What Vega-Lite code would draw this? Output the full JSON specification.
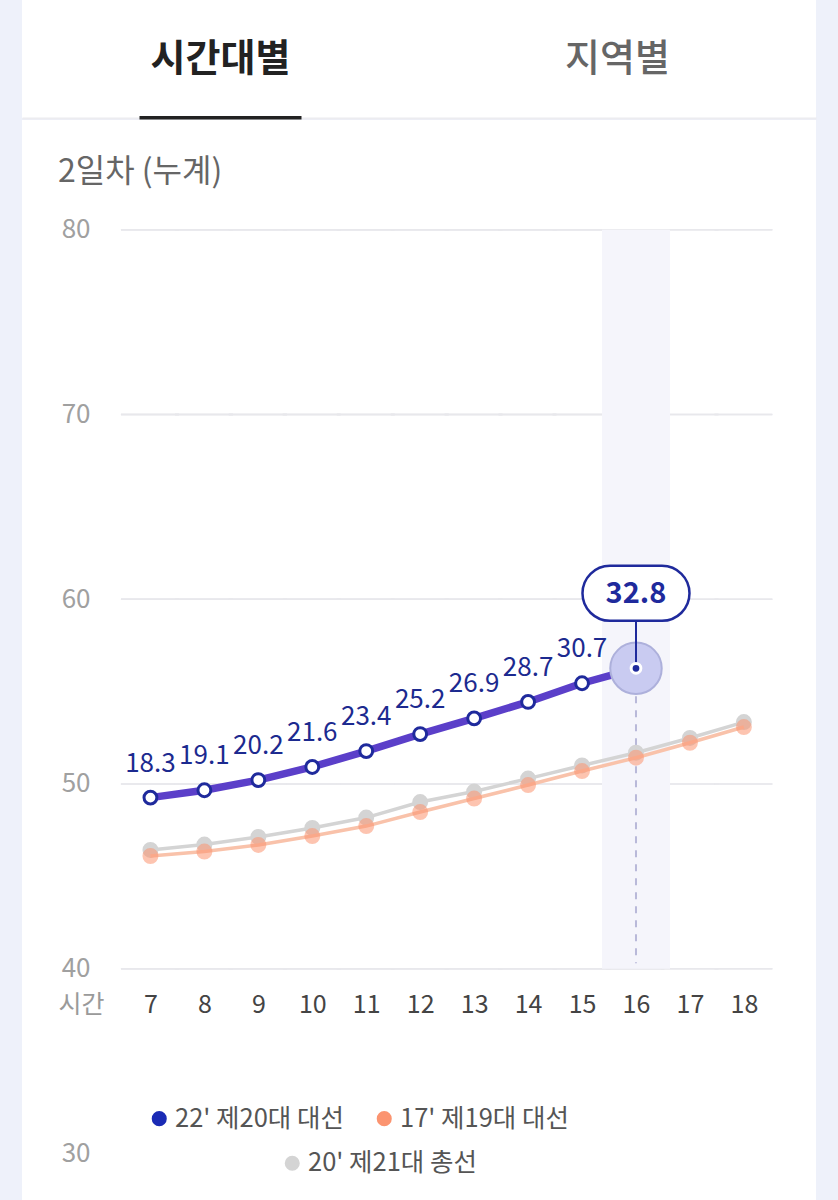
{
  "$schema": "https://vega.github.io/schema/vega-lite/v6.json",
  "background": "#eef1fa",
  "padding": {"left": 22, "right": 22, "top": 0, "bottom": 0},
  "spacing": 0,
  "config": {
    "view": {"stroke": null},
    "font": "Noto Sans CJK KR"
  },
  "vconcat": [
    {
      "width": 794,
      "height": 118,
      "view": {"fill": "white", "stroke": null},
      "data": {"values": [
        {"tab": "시간대별", "active": true},
        {"tab": "지역별", "active": false}
      ]},
      "encoding": {
        "x": {"field": "tab", "type": "nominal", "sort": null,
              "scale": {"domain": ["시간대별", "지역별"], "paddingInner": 0, "paddingOuter": 0},
              "axis": {"labels": false, "ticks": false, "title": null, "grid": false, "domainColor": "#ececf0", "domainWidth": 2}}
      },
      "layer": [
        {
          "transform": [{"filter": "datum.active"}],
          "mark": {"type": "text", "fontSize": 38, "baseline": "middle", "dy": 1, "fontWeight": "bold", "color": "#222222"},
          "encoding": {"text": {"field": "tab"}}
        },
        {
          "transform": [{"filter": "!datum.active"}],
          "mark": {"type": "text", "fontSize": 38, "baseline": "middle", "dy": 1, "fontWeight": 500, "color": "#666666"},
          "encoding": {"text": {"field": "tab"}}
        },
        {
          "transform": [{"filter": "datum.active"}],
          "mark": {"type": "bar", "width": 162, "y": 116, "y2": 119.5, "color": "#222222"}
        }
      ]
    },
    {
      "width": 794,
      "height": 1081,
      "view": {"fill": "white", "stroke": null},
      "title": {"text": "2일차 (누계)", "anchor": "start", "dx": 36, "offset": -84, "baseline": "middle", "fontSize": 32, "fontWeight": "normal", "color": "#666666"},
      "data": {"values": [
        {"series": "22' 제20대 대선", "hour": 7, "value": 49.26, "label": "18.3"},
        {"series": "22' 제20대 대선", "hour": 8, "value": 49.66, "label": "19.1"},
        {"series": "22' 제20대 대선", "hour": 9, "value": 50.21, "label": "20.2"},
        {"series": "22' 제20대 대선", "hour": 10, "value": 50.92, "label": "21.6"},
        {"series": "22' 제20대 대선", "hour": 11, "value": 51.78, "label": "23.4"},
        {"series": "22' 제20대 대선", "hour": 12, "value": 52.70, "label": "25.2"},
        {"series": "22' 제20대 대선", "hour": 13, "value": 53.55, "label": "26.9"},
        {"series": "22' 제20대 대선", "hour": 14, "value": 54.44, "label": "28.7"},
        {"series": "22' 제20대 대선", "hour": 15, "value": 55.45, "label": "30.7"},
        {"series": "22' 제20대 대선", "hour": 16, "value": 56.26, "label": "32.8"},
        {"series": "17' 제19대 대선", "hour": 7, "value": 46.10},
        {"series": "17' 제19대 대선", "hour": 8, "value": 46.34},
        {"series": "17' 제19대 대선", "hour": 9, "value": 46.70},
        {"series": "17' 제19대 대선", "hour": 10, "value": 47.18},
        {"series": "17' 제19대 대선", "hour": 11, "value": 47.72},
        {"series": "17' 제19대 대선", "hour": 12, "value": 48.48},
        {"series": "17' 제19대 대선", "hour": 13, "value": 49.21},
        {"series": "17' 제19대 대선", "hour": 14, "value": 49.94},
        {"series": "17' 제19대 대선", "hour": 15, "value": 50.70},
        {"series": "17' 제19대 대선", "hour": 16, "value": 51.42},
        {"series": "17' 제19대 대선", "hour": 17, "value": 52.23},
        {"series": "17' 제19대 대선", "hour": 18, "value": 53.08},
        {"series": "20' 제21대 총선", "hour": 7, "value": 46.43},
        {"series": "20' 제21대 총선", "hour": 8, "value": 46.72},
        {"series": "20' 제21대 총선", "hour": 9, "value": 47.13},
        {"series": "20' 제21대 총선", "hour": 10, "value": 47.62},
        {"series": "20' 제21대 총선", "hour": 11, "value": 48.18},
        {"series": "20' 제21대 총선", "hour": 12, "value": 49.02},
        {"series": "20' 제21대 총선", "hour": 13, "value": 49.59},
        {"series": "20' 제21대 총선", "hour": 14, "value": 50.29},
        {"series": "20' 제21대 총선", "hour": 15, "value": 51.00},
        {"series": "20' 제21대 총선", "hour": 16, "value": 51.69},
        {"series": "20' 제21대 총선", "hour": 17, "value": 52.49},
        {"series": "20' 제21대 총선", "hour": 18, "value": 53.35}
      ]},
      "encoding": {
        "x": {"field": "hour", "type": "quantitative",
              "scale": {"domain": [4.712, 19.244], "nice": false, "zero": false},
              "axis": {"values": [7, 8, 9, 10, 11, 12, 13, 14, 15, 16, 17, 18], "grid": false, "domain": false, "ticks": false, "tickSize": 0,
                       "offset": -232.3, "labelPadding": 35.8, "labelBaseline": "middle", "labelFontSize": 25, "labelColor": "#444444",
                       "title": "시간", "titleX": 36, "titleY": 35.8, "titleAlign": "left", "titleBaseline": "middle", "titleAngle": 0,
                       "titleFontSize": 25, "titleFontWeight": "normal", "titleColor": "#9a9a9a"}},
        "y": {"field": "value", "type": "quantitative",
              "scale": {"domain": [27.426, 85.938], "nice": false, "zero": false},
              "axis": {"values": [30, 40, 50, 60, 70, 80], "grid": false, "domain": false, "ticks": false, "tickSize": 0,
                       "offset": -68, "labelPadding": 0, "labelFontSize": 26, "labelColor": "#a0a0a0", "title": null}}
      },
      "resolve": {"scale": {"color": "independent"}, "legend": {"color": "independent"}},
      "layer": [
        {
          "mark": {"type": "rule", "stroke": "#e8e8ec", "strokeWidth": 1.5, "xOffset": -29.5, "x2Offset": 28.5},
          "encoding": {
            "x": {"aggregate": "min", "field": "hour", "type": "quantitative"},
            "x2": {"aggregate": "max", "field": "hour"},
            "y": {"datum": 40, "type": "quantitative"}
          }
        },
        {
          "mark": {"type": "rule", "stroke": "#e8e8ec", "strokeWidth": 1.5, "xOffset": -29.5, "x2Offset": 28.5},
          "encoding": {
            "x": {"aggregate": "min", "field": "hour", "type": "quantitative"},
            "x2": {"aggregate": "max", "field": "hour"},
            "y": {"datum": 50, "type": "quantitative"}
          }
        },
        {
          "mark": {"type": "rule", "stroke": "#e8e8ec", "strokeWidth": 1.5, "xOffset": -29.5, "x2Offset": 28.5},
          "encoding": {
            "x": {"aggregate": "min", "field": "hour", "type": "quantitative"},
            "x2": {"aggregate": "max", "field": "hour"},
            "y": {"datum": 60, "type": "quantitative"}
          }
        },
        {
          "mark": {"type": "rule", "stroke": "#e8e8ec", "strokeWidth": 1.5, "xOffset": -29.5, "x2Offset": 28.5},
          "encoding": {
            "x": {"aggregate": "min", "field": "hour", "type": "quantitative"},
            "x2": {"aggregate": "max", "field": "hour"},
            "y": {"datum": 70, "type": "quantitative"}
          }
        },
        {
          "mark": {"type": "rule", "stroke": "#e8e8ec", "strokeWidth": 1.5, "xOffset": -29.5, "x2Offset": 28.5},
          "encoding": {
            "x": {"aggregate": "min", "field": "hour", "type": "quantitative"},
            "x2": {"aggregate": "max", "field": "hour"},
            "y": {"datum": 80, "type": "quantitative"}
          }
        },
        {
          "transform": [{"filter": {"and": [{"field": "series", "equal": "22' 제20대 대선"}, {"field": "hour", "equal": 16}]}}],
          "mark": {"type": "bar", "width": 68, "color": "#f5f5fb"},
          "encoding": {
            "y": {"datum": 80, "type": "quantitative"},
            "y2": {"datum": 40}
          }
        },
        {
          "transform": [{"filter": {"and": [{"field": "series", "equal": "22' 제20대 대선"}, {"field": "hour", "equal": 16}]}}],
          "mark": {"type": "rule", "color": "#b9b9d9", "strokeWidth": 2, "strokeDash": [7, 7]},
          "encoding": {
            "y2": {"datum": 40.3}
          }
        },
        {
          "transform": [{"filter": {"field": "series", "equal": "20' 제21대 총선"}}],
          "mark": {"type": "line", "color": "#d4d4d4", "strokeWidth": 3.5}
        },
        {
          "transform": [{"filter": {"field": "series", "equal": "20' 제21대 총선"}}],
          "mark": {"type": "circle", "size": 254, "opacity": 1},
          "encoding": {
            "color": {"field": "series", "type": "nominal",
                      "scale": {"domain": ["20' 제21대 총선"], "range": ["#d4d4d4"]},
                      "legend": {"orient": "none", "legendX": 257.5, "legendY": 1030.5, "direction": "horizontal", "title": null,
                                 "symbolType": "circle", "symbolSize": 227, "symbolOpacity": 1, "symbolStrokeWidth": 0,
                                 "labelFontSize": 25.5, "labelColor": "#555555", "labelOffset": 3, "labelLimit": 400, "padding": 0}}
          }
        },
        {
          "transform": [{"filter": {"field": "series", "equal": "17' 제19대 대선"}}],
          "mark": {"type": "line", "color": "#f9c2aa", "strokeWidth": 3.5}
        },
        {
          "transform": [{"filter": {"field": "series", "equal": "17' 제19대 대선"}}],
          "mark": {"type": "circle", "size": 254, "opacity": 0.55},
          "encoding": {
            "color": {"field": "series", "type": "nominal",
                      "scale": {"domain": ["22' 제20대 대선", "17' 제19대 대선"], "range": ["#1a2bb5", "#fb9470"]},
                      "legend": {"orient": "none", "legendX": 124.5, "legendY": 985.5, "direction": "horizontal", "title": null,
                                 "symbolType": "circle", "symbolSize": 227, "symbolOpacity": 1, "symbolStrokeWidth": 0,
                                 "labelFontSize": 25.5, "labelColor": "#555555", "labelOffset": 3, "labelLimit": 400, "columnPadding": 27, "padding": 0}}
          }
        },
        {
          "transform": [{"filter": {"field": "series", "equal": "22' 제20대 대선"}}],
          "mark": {"type": "line", "color": "#5b3fc9", "strokeWidth": 7.5}
        },
        {
          "transform": [{"filter": {"and": [{"field": "series", "equal": "22' 제20대 대선"}, {"field": "hour", "lt": 16}]}}],
          "mark": {"type": "point", "shape": "circle", "size": 165, "filled": true, "fill": "white", "stroke": "#1f2a9c", "strokeWidth": 3, "opacity": 1}
        },
        {
          "transform": [{"filter": {"and": [{"field": "series", "equal": "22' 제20대 대선"}, {"field": "hour", "lt": 16}]}}],
          "mark": {"type": "text", "dy": -34, "baseline": "middle", "fontSize": 26, "color": "#1c2a8f"},
          "encoding": {"text": {"field": "label"}}
        },
        {
          "transform": [{"filter": {"and": [{"field": "series", "equal": "22' 제20대 대선"}, {"field": "hour", "equal": 16}]}}],
          "mark": {"type": "point", "shape": "circle", "size": 2650, "filled": true, "fill": "#c9cbf1", "stroke": "#adb0db", "strokeWidth": 2, "opacity": 1}
        },
        {
          "transform": [{"filter": {"and": [{"field": "series", "equal": "22' 제20대 대선"}, {"field": "hour", "equal": 16}]}}],
          "mark": {"type": "rule", "color": "#1f2a9c", "strokeWidth": 2, "y2Offset": -47},
          "encoding": {"y2": {"field": "value"}}
        },
        {
          "transform": [{"filter": {"and": [{"field": "series", "equal": "22' 제20대 대선"}, {"field": "hour", "equal": 16}]}}],
          "mark": {"type": "point", "shape": "circle", "size": 95, "filled": true, "fill": "#1f2a9c", "stroke": "white", "strokeWidth": 3, "opacity": 1}
        },
        {
          "transform": [{"filter": {"and": [{"field": "series", "equal": "22' 제20대 대선"}, {"field": "hour", "equal": 16}]}}],
          "mark": {"type": "point", "shape": "M -0.486 -0.514 L 0.486 -0.514 C 0.770 -0.514 1 -0.284 1 0 C 1 0.284 0.770 0.514 0.486 0.514 L -0.486 0.514 C -0.770 0.514 -1 0.284 -1 0 C -1 -0.284 -0.770 -0.514 -0.486 -0.514 Z",
                   "size": 11449, "filled": true, "fill": "white", "stroke": "#1f2a9c", "strokeWidth": 2.5, "opacity": 1, "yOffset": -75}
        },
        {
          "transform": [{"filter": {"and": [{"field": "series", "equal": "22' 제20대 대선"}, {"field": "hour", "equal": 16}]}}],
          "mark": {"type": "text", "dy": -74, "baseline": "middle", "fontSize": 29, "fontWeight": "bold", "color": "#1f2a9c"},
          "encoding": {"text": {"field": "label"}}
        }
      ]
    }
  ]
}
